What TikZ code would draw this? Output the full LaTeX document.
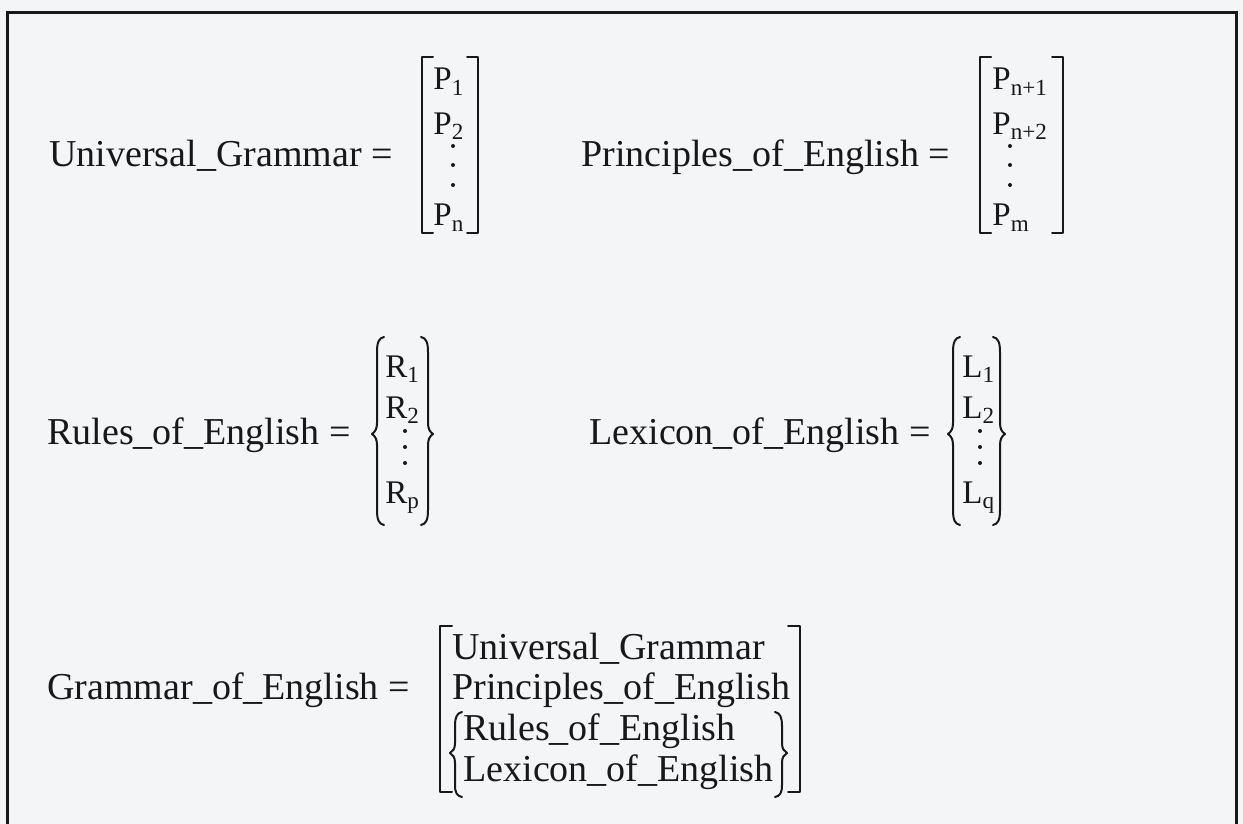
\documentclass[tikz,border=0pt]{standalone}
\usepackage{fontspec}
\setmainfont{Liberation Serif}
\definecolor{ink}{RGB}{24,24,26}
\definecolor{paper}{RGB}{244,245,247}
\begin{document}
\begin{tikzpicture}[x=0.5pt,y=0.5pt,yscale=-1,xscale=1,
  lbl/.style={anchor=base west,inner sep=0pt,text=ink,font=\fontsize{19}{21}\selectfont},
  ent/.style={anchor=base west,inner sep=0pt,text=ink,font=\fontsize{16.5}{18}\selectfont},
  fence/.style={draw=ink,line width=1pt,line cap=round,line join=round},
  vdot/.style={fill=ink,draw=none}]
\useasboundingbox (0,0) rectangle (1243,824);
\fill[paper] (0,0) rectangle (1243,824);

%Shape: Frame
\draw [draw=ink,line width=1.5pt] (7,830) -- (7,13) -- (1236,13) -- (1236,830);

% Text Node
\draw (49,167) node [lbl] (ug) {Universal\_Grammar =};
% Text Node
\draw (433,90) node [ent] (ugp1) {P\textsubscript{1}};
\draw (433,134) node [ent] (ugp2) {P\textsubscript{2}};
\draw (433,226) node [ent] (ugpn) {P\textsubscript{n}};
\fill [vdot] (453,146) circle (2) (453,165) circle (2) (453,185) circle (2);
%Shape: Bracket
\draw [fence] (433,57) -- (422,57) -- (422,233) -- (433,233);
\draw [fence] (467,57) -- (478,57) -- (478,233) -- (467,233);

% Text Node
\draw (581,167) node [lbl] (pe) {Principles\_of\_English =};
% Text Node
\draw (992,90) node [ent] (pep1) {P\textsubscript{n+1}};
\draw (992,134) node [ent] (pep2) {P\textsubscript{n+2}};
\draw (992,226) node [ent] (pepm) {P\textsubscript{m}};
\fill [vdot] (1010,146) circle (2) (1010,165) circle (2) (1010,185) circle (2);
%Shape: Bracket
\draw [fence] (991,57) -- (980,57) -- (980,233) -- (991,233);
\draw [fence] (1052,57) -- (1063,57) -- (1063,233) -- (1052,233);

% Text Node
\draw (47,444) node [lbl] (re) {Rules\_of\_English =};
% Text Node
\draw (385,377) node [ent] (rer1) {R\textsubscript{1}};
\draw (385,418) node [ent] (rer2) {R\textsubscript{2}};
\draw (385,503) node [ent] (rerp) {R\textsubscript{p}};
\fill [vdot] (405,431) circle (2) (405,447) circle (2) (405,463) circle (2);
%Shape: Brace
\draw [fence] (384,337) .. controls (379,338) and (377,342) .. (377,352) -- (377,423) .. controls (377,429) and (375,432) .. (372,434) .. controls (375,436) and (377,439) .. (377,445) -- (377,510) .. controls (377,520) and (379,524) .. (384,525);
\draw [fence] (421,337) .. controls (426,338) and (428,342) .. (428,352) -- (428,423) .. controls (428,429) and (430,432) .. (433,434) .. controls (430,436) and (428,439) .. (428,445) -- (428,510) .. controls (428,520) and (426,524) .. (421,525);

% Text Node
\draw (589,444) node [lbl] (le) {Lexicon\_of\_English =};
% Text Node
\draw (962,377) node [ent] (lel1) {L\textsubscript{1}};
\draw (962,418) node [ent] (lel2) {L\textsubscript{2}};
\draw (962,503) node [ent] (lelq) {L\textsubscript{q}};
\fill [vdot] (980,431) circle (2) (980,447) circle (2) (980,463) circle (2);
%Shape: Brace
\draw [fence] (960,337) .. controls (955,338) and (953,342) .. (953,352) -- (953,423) .. controls (953,429) and (951,432) .. (948,434) .. controls (951,436) and (953,439) .. (953,445) -- (953,510) .. controls (953,520) and (955,524) .. (960,525);
\draw [fence] (993,337) .. controls (998,338) and (1000,342) .. (1000,352) -- (1000,423) .. controls (1000,429) and (1002,432) .. (1005,434) .. controls (1002,436) and (1000,439) .. (1000,445) -- (1000,510) .. controls (1000,520) and (998,524) .. (993,525);

% Text Node
\draw (47,699) node [lbl] (ge) {Grammar\_of\_English =};
% Text Node
\draw (452,659) node [lbl] (geug) {Universal\_Grammar};
\draw (452,699) node [lbl] (gepe) {Principles\_of\_English};
\draw (463,740) node [lbl] (gere) {Rules\_of\_English};
\draw (463,781) node [lbl] (gele) {Lexicon\_of\_English};
%Shape: Bracket
\draw [fence] (452,626) -- (440,626) -- (440,792) -- (452,792);
\draw [fence] (788,626) -- (800,626) -- (800,792) -- (788,792);
%Shape: Brace
\draw [fence] (462,712) .. controls (457,713) and (455,717) .. (455,726) -- (455,743) .. controls (455,749) and (453,751) .. (450,753) .. controls (453,755) and (455,757) .. (455,763) -- (455,785) .. controls (455,793) and (457,796) .. (462,797);
\draw [fence] (775,712) .. controls (780,713) and (782,717) .. (782,726) -- (782,743) .. controls (782,749) and (784,751) .. (787,753) .. controls (784,755) and (782,757) .. (782,763) -- (782,785) .. controls (782,793) and (780,796) .. (775,797);

\end{tikzpicture}
\end{document}
